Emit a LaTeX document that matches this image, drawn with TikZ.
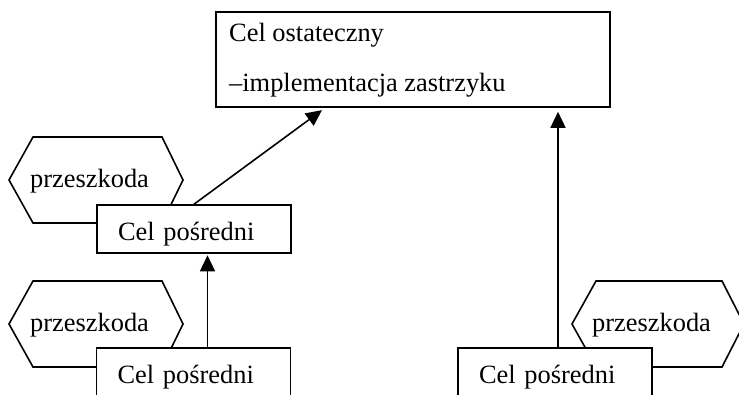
\documentclass[tikz,border=0pt]{standalone}
\usepackage{fontspec}
\setmainfont{Liberation Serif}
\usetikzlibrary{arrows.meta}

\tikzset{
  cel/.style={draw, fill=white, line width=1.6pt, minimum width=194pt, minimum height=48pt,
    inner xsep=21pt, text width=152pt, align=left, text height=29pt, text depth=7pt},
  tekst/.style={inner sep=0pt, anchor=base west},
  hex/.style={line width=1.6pt, line join=miter},
  strz/.style={line width=1.6pt, -{Triangle[length=16pt,width=15pt]}}
}

\begin{document}
\begin{tikzpicture}[x=1pt, y=-1pt, font=\fontsize{26.4}{32}\selectfont]
    \useasboundingbox (0,0) rectangle (739,394);
    \clip (0,0) rectangle (739,394);
    % przeszkody
    \draw[hex] (9,180) -- (33,137) -- (162,137) -- (183,180) -- (162,223) -- (33,223) -- cycle;
    \node[tekst] (p1) at (30,187) {przeszkoda};
    \draw[hex] (9,324) -- (33,281) -- (162,281) -- (183,324) -- (162,367) -- (33,367) -- cycle;
    \node[tekst] (p2) at (30,331) {przeszkoda};
    \draw[hex] (572,324) -- (596,281) -- (722,281) -- (744,324) -- (722,367) -- (596,367) -- cycle;
    \node[tekst] (p3) at (592,331) {przeszkoda};
    % cele
    \node[draw, line width=1.6pt, minimum width=394pt, minimum height=95pt] (a) at (413,59.5) {};
    \node[tekst] (a1) at (229,41.5) {Cel ostateczny};
    \node[tekst] (a2) at (229,91.5) {–implementacja zastrzyku};
    \node[cel] (b1) at (194,229) {Cel pośredni};
    \node[cel] (b2) at (193.5,372) {Cel pośredni};
    \node[cel] (b3) at (555,372) {Cel pośredni};
    % strzalki
    \draw[strz, shorten >=4pt] (b1.north) -- ([xshift=110pt]a.south west);
    \draw[strz, shorten >=1.5pt] ([xshift=14pt]b2.north) -- ([xshift=14pt]b2.north |- b1.south);
    \draw[strz, shorten >=4pt] ([xshift=3pt]b3.north) -- ([xshift=3pt]b3.north |- a.south);
\end{tikzpicture}
\end{document}
